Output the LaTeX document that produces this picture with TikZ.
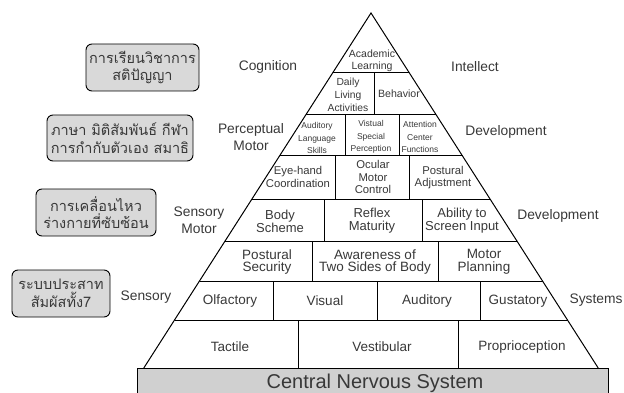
\documentclass[tikz,border=0pt]{standalone}
\usepackage{fontspec}
\setmainfont{Liberation Sans}
\newfontfamily\thai[Script=Thai]{Loma}
\definecolor{txt}{HTML}{383838}
\definecolor{boxfill}{HTML}{D9D9D9}
\definecolor{barfill}{HTML}{D0D0D0}
\newcommand{\fs}[2]{\fontsize{#1}{#2}\selectfont}
\begin{document}
\begin{tikzpicture}[x=1pt,y=-1pt,
  cell/.style={align=center,text=txt,inner sep=0pt},
  side/.style={align=center,text=txt,inner sep=0pt,font=\fs{13.8}{16.5}},
  thaibox/.style={draw=black,line width=0.9pt,fill=boxfill,rounded corners=6pt,align=center,text=txt,inner sep=0pt,font=\thai\fs{14.5}{17.5}},
  pyr/.style={line width=1pt,draw=black}]
\useasboundingbox (0,0) rectangle (624,393);
% CNS bar
\path[pyr,fill=barfill] (137,394) -- (137,368) -- (608,368) -- (608,394);
\node[cell,font=\fs{20}{22}] (cns) at (375,383) {Central Nervous System};
% pyramid outline
\coordinate (apex) at (371,13);
\coordinate (bl) at (143.8,368);
\coordinate (br) at (598.2,368);
\draw[pyr,line join=miter] (bl) -- (apex) -- (br);
% horizontal lines
\draw[pyr] (332.6,73) -- (409.4,73);
\draw[pyr] (305.7,115) -- (436.3,115);
\draw[pyr] (279.5,156) -- (462.5,156);
\draw[pyr] (252.0,199) -- (490.0,199);
\draw[pyr] (225.1,241) -- (516.9,241);
\draw[pyr] (199.5,281) -- (542.5,281);
\draw[pyr] (174.5,320) -- (567.5,320);
% vertical dividers
\draw[pyr] (374,73) -- (374,115);
\draw[pyr] (345,115) -- (345,156);
\draw[pyr] (399,115) -- (399,156);
\draw[pyr] (335,156) -- (335,199);
\draw[pyr] (409,156) -- (409,199);
\draw[pyr] (324,199) -- (324,241);
\draw[pyr] (422,199) -- (422,241);
\draw[pyr] (312,241) -- (312,281);
\draw[pyr] (438,241) -- (438,281);
\draw[pyr] (273,281) -- (273,320);
\draw[pyr] (377,281) -- (377,320);
\draw[pyr] (480,281) -- (480,320);
\draw[pyr] (298,320) -- (298,368);
\draw[pyr] (458,320) -- (458,368);
% cell texts
\node[cell,font=\fs{10.5}{12.5}] (acad) at (372,61) {Academic\\Learning};
\node[cell,font=\fs{10.3}{13}] (daily) at (348,95) {Daily\\Living\\Activities};
\node[cell,font=\fs{10.6}{13}] (behav) at (399,94) {Behavior};
\node[cell,font=\fs{8.5}{12.5}] (audl) at (317,138) {Auditory\\Language\\Skills};
\node[cell,font=\fs{8.5}{12.5}] (vis) at (371,137) {Vistual\\Special\\Perception};
\node[cell,font=\fs{8.5}{12.5}] (att) at (420,137) {Attention\\Center\\Functions};
\node[cell,font=\fs{11.3}{12.5}] (eye) at (298,177) {Eye-hand\\Coordination};
\node[cell,font=\fs{11.3}{12.5}] (ocu) at (373,177) {Ocular\\Motor\\Control};
\node[cell,font=\fs{11.3}{12.5}] (posa) at (443,177.5) {Postural\\Adjustment};
\node[cell,font=\fs{13}{13}] (body) at (280,221) {Body\\Scheme};
\node[cell,font=\fs{13}{13}] (refl) at (372,221) {Reflex\\Maturity};
\node[cell,font=\fs{13}{13}] (abil) at (462,221) {Ability to\\Screen Input};
\node[cell,font=\fs{13.5}{12.5}] (poss) at (267,262) {Postural\\Security};
\node[cell,font=\fs{13.5}{12.5}] (aware) at (375,262) {Awareness of\\Two Sides of Body};
\node[cell,font=\fs{13.5}{12.5}] (motp) at (484,262) {Motor\\Planning};
\node[cell,font=\fs{13.5}{15}] (olf) at (230,301) {Olfactory};
\node[cell,font=\fs{13.5}{15}] (visu) at (325,301) {Visual};
\node[cell,font=\fs{13.5}{15}] (audi) at (427,301) {Auditory};
\node[cell,font=\fs{13.5}{15}] (gust) at (518,301) {Gustatory};
\node[cell,font=\fs{13.5}{15}] (tact) at (230,347) {Tactile};
\node[cell,font=\fs{13.5}{15}] (vest) at (382,347) {Vestibular};
\node[cell,font=\fs{13.5}{15}] (prop) at (522,347) {Proprioception};
% side labels
\node[side] (cog) at (268,67) {Cognition};
\node[side] (intel) at (475,67) {Intellect};
\node[side] (perc) at (251,137) {Perceptual\\Motor};
\node[side] (dev1) at (506,132) {Development};
\node[side] (senm) at (199,220) {Sensory\\Motor};
\node[side] (dev2) at (558,216) {Development};
\node[side] (sens) at (146,297) {Sensory};
\node[side] (sys) at (596,300) {Systems};
% Thai boxes
\node[thaibox,minimum width=113pt,minimum height=47pt] (t1) at (142.5,67.5) {การเรียนวิชาการ\\สติปัญญา};
\node[thaibox,minimum width=146pt,minimum height=46pt] (t2) at (120,138) {ภาษา มิติสัมพันธ์ กีฬา\\การกำกับตัวเอง สมาธิ};
\node[thaibox,minimum width=120pt,minimum height=47pt] (t3) at (96,212.5) {การเคลื่อนไหว\\ร่างกายที่ซับซ้อน};
\node[thaibox,minimum width=98pt,minimum height=47pt] (t4) at (61,293.5) {ระบบประสาท\\สัมผัสทั้ง7};
\end{tikzpicture}
\end{document}
